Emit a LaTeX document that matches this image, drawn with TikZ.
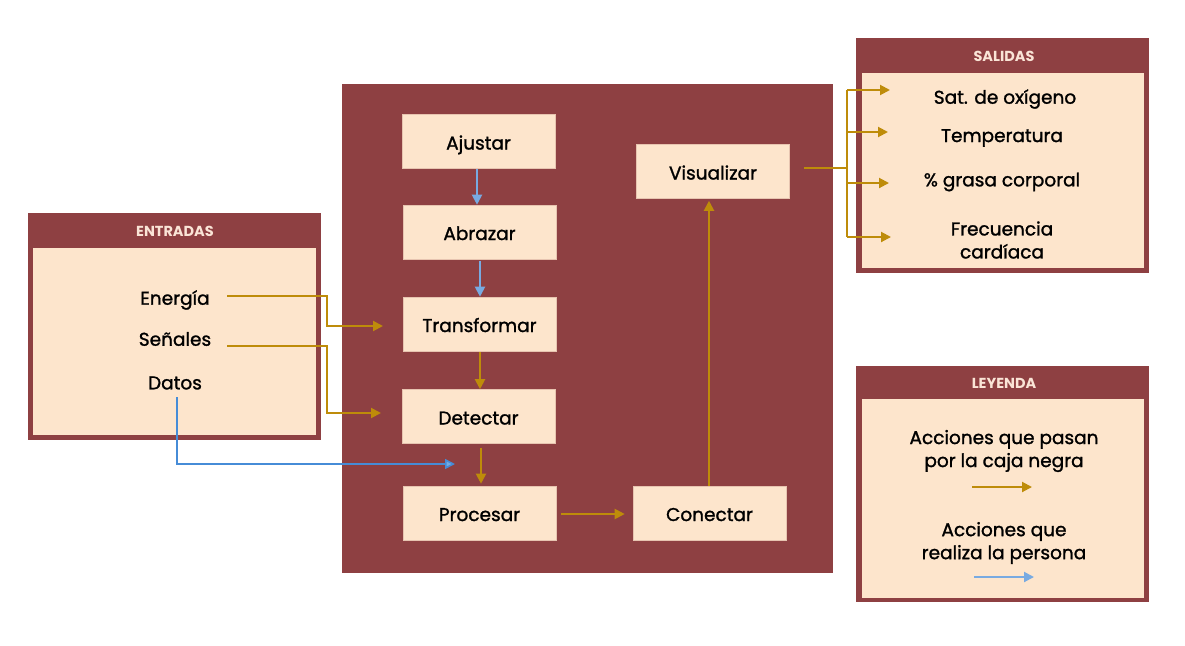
\documentclass[tikz,border=0pt]{standalone}
\usepackage{fontspec}
\setmainfont{Poppins}[RawFeature={embolden=1.3}]
\newfontfamily\hdrfont{Poppins Bold}
\usetikzlibrary{arrows.meta,calc}
\definecolor{dred}{RGB}{142,64,66}
\definecolor{peach}{RGB}{253,229,204}
\definecolor{gold}{RGB}{190,140,10}
\definecolor{sky}{RGB}{120,170,225}
\definecolor{bluel}{RGB}{70,140,215}
\definecolor{hdtxt}{RGB}{250,228,214}
\tikzset{
  stepbox/.style={draw=peach!80!dred,line width=0.6pt,fill=peach,minimum width=153pt,minimum height=54pt,inner sep=0pt,text height=20pt,text depth=4pt,font=\fontsize{18.5}{22}\selectfont},
  lbl/.style={inner sep=0pt,align=center,yshift=-2pt,font=\fontsize{18.5}{23}\selectfont},
  hdr/.style={inner sep=0pt,text=hdtxt,font=\fontsize{14.5}{17}\hdrfont},
  garrow/.style={draw=gold,line width=2pt,-{Triangle[length=10pt,width=10pt]}},
  barrow/.style={draw=sky,line width=2pt,-{Triangle[length=10pt,width=10pt]}},
  gline/.style={draw=gold,line width=2pt},
}
\begin{document}
\begin{tikzpicture}[x=1pt,y=-1pt]
\useasboundingbox (0,0) rectangle (1185,645);
\fill[white] (0,0) rectangle (1185,645);
% Entradas panel
\fill[dred] (28,213) rectangle (321,440);
\fill[peach] (33,248) rectangle (316,435);
\node[hdr] (hent) at (175,231) {ENTRADAS};
\node[lbl] (energia) at (175,298) {Energía};
\node[lbl] (senales) at (175,337) {Señales};
\node[lbl] (datos) at (175,381) {Datos};
% Salidas panel
\fill[dred] (856,38) rectangle (1149,273);
\fill[peach] (862,73) rectangle (1144,268);
\node[hdr] (hsal) at (1004,56) {SALIDAS};
\node[lbl] (sat) at (1005,97) {Sat. de oxígeno};
\node[lbl] (temp) at (1002,136) {Temperatura};
\node[lbl] (grasa) at (1002,180) {\% grasa corporal};
\node[lbl] (frec) at (1002,238) {Frecuencia\\cardíaca};
% Leyenda panel
\fill[dred] (856,366) rectangle (1149,602);
\fill[peach] (862,399) rectangle (1144,598);
\node[hdr] (hley) at (1004,383) {LEYENDA};
\node[lbl] (l1) at (1004,449) {Acciones que pasan\\por la caja negra};
\node[lbl] (l2) at (1004,541) {Acciones que\\realiza la persona};
\coordinate (lg1) at (972,487); \coordinate (lg2) at (1032,487);
\coordinate (lb1) at (974,577); \coordinate (lb2) at (1034,577);
\draw[garrow] (lg1) -- (lg2);
\draw[barrow] (lb1) -- (lb2);
% Black box
\fill[dred] (342,84) rectangle (833,573);
\node[stepbox] (ajustar) at (478.5,141.5) {Ajustar};
\node[stepbox] (abrazar) at (479.5,232) {Abrazar};
\node[stepbox] (transf) at (479.5,324) {Transformar};
\node[stepbox] (detectar) at (478.5,416.5) {Detectar};
\node[stepbox] (procesar) at (479.5,513) {Procesar};
\node[stepbox] (conectar) at (709.5,513) {Conectar};
\node[stepbox] (visual) at (713,171.5) {Visualizar};
% internal arrows
\draw[barrow] ([xshift=-1.5pt]ajustar.south) -- ([xshift=-2.5pt]abrazar.north);
\draw[barrow,shorten <=2pt] ([xshift=0.5pt]abrazar.south) -- ([xshift=0.5pt]transf.north);
\draw[garrow,shorten <=1pt] ([xshift=0.5pt]transf.south) -- ([xshift=1.5pt]detectar.north);
\draw[garrow,shorten <=4pt,shorten >=2pt] ([xshift=2.5pt]detectar.south) -- ([xshift=1.5pt]procesar.north);
\draw[garrow,shorten <=5pt,shorten >=8pt] ([yshift=-1pt]procesar.east) -- ([yshift=-1pt]conectar.west);
\draw[garrow,shorten >=2pt] ([xshift=-0.5pt]conectar.north) -- ([xshift=-0.5pt]conectar.north |- visual.south);
% input connectors
\coordinate (e0) at (227,296); \coordinate (ek) at (327,296); \coordinate (e1) at (383,326);
\coordinate (s0) at (227,346); \coordinate (sk) at (327,346); \coordinate (s1) at (381,413);
\coordinate (d0) at (177,397); \coordinate (d1) at (455,464);
\draw[garrow] (e0) -- (ek) |- (e1);
\draw[garrow] (s0) -- (sk) |- (s1);
\draw[draw=bluel,line width=1.6pt,-{Triangle[length=10pt,width=10pt,fill=sky]}] (d0) |- (d1);
% output connectors
\coordinate (v0) at (804,168); \coordinate (vk) at (847,168);
\coordinate (b1) at (847,90); \coordinate (b2) at (847,132);
\coordinate (b3) at (847,183); \coordinate (b4) at (847,237);
\coordinate (t1) at (890,90); \coordinate (t2) at (888,132);
\coordinate (t3) at (889,183); \coordinate (t4) at (891,237);
\draw[gline] (v0) -- (vk);
\draw[gline] (b1) -- (b4);
\draw[garrow] (b1) -- (t1);
\draw[garrow] (b2) -- (t2);
\draw[garrow] (b3) -- (t3);
\draw[garrow] (b4) -- (t4);
\end{tikzpicture}
\end{document}
